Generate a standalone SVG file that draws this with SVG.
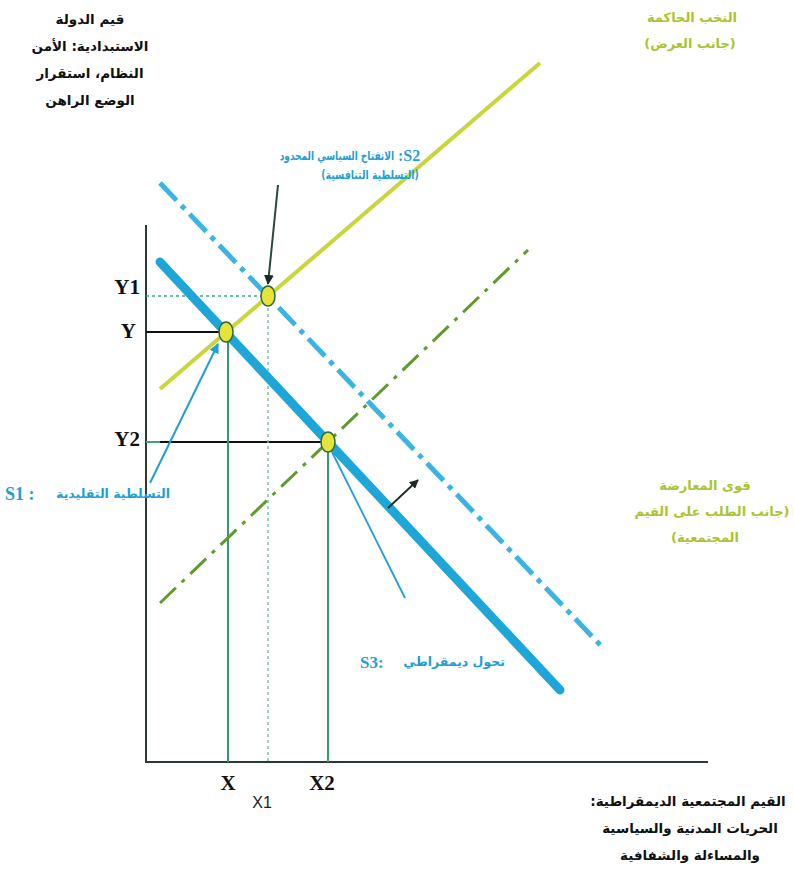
<svg xmlns="http://www.w3.org/2000/svg" width="794" height="894" viewBox="0 0 794 894">
<defs>
<marker id="ahBlack" viewBox="0 0 10 10" refX="9" refY="5" markerWidth="5" markerHeight="5" orient="auto-start-reverse"><path d="M0,0 L10,5 L0,10 z" fill="#1c2a22"/></marker>
<marker id="ahBlue" viewBox="0 0 10 10" refX="9" refY="5" markerWidth="5" markerHeight="5" orient="auto-start-reverse"><path d="M0,0 L10,5 L0,10 z" fill="#1f9fd2"/></marker>
</defs>
<style>
.ar{font-family:"DejaVu Sans",sans-serif;font-weight:bold;}
.lab{font-family:"Liberation Serif",serif;font-weight:bold;font-size:21px;fill:#111;}
.blk{fill:#111;font-size:13.5px;}
.grn{fill:#a9c42e;font-size:13px;}
.cy{fill:#1e9fd4;font-size:12.5px;}
.pt{fill:#e6e33a;stroke:#2c6a3c;stroke-width:1.5;}
</style>
<rect width="794" height="894" fill="#ffffff"/>

<g id="connectors" fill="none">
  <path id="axes" d="M146,225 V762 H708" stroke="#2b3b33" stroke-width="2"/>
  <line id="y1-guide" x1="146" y1="296" x2="268" y2="296" stroke="#3aa88a" stroke-width="1.5" stroke-dasharray="3 3"/>
  <line id="y-guide" x1="146" y1="332" x2="226" y2="332" stroke="#111" stroke-width="2"/>
  <line id="y2-guide-a" x1="146" y1="442" x2="160" y2="442" stroke="#3aa870" stroke-width="2"/>
  <line id="y2-guide-b" x1="160" y1="442" x2="328" y2="442" stroke="#111" stroke-width="2"/>
  <line id="x-guide" x1="228" y1="332" x2="228" y2="762" stroke="#2f9e6a" stroke-width="2"/>
  <line id="x1-guide" x1="268" y1="296" x2="268" y2="762" stroke="#7cc4b0" stroke-width="1.5" stroke-dasharray="3 3"/>
  <line id="x2-guide" x1="328" y1="442" x2="328" y2="762" stroke="#2f9e6a" stroke-width="2"/>
  <line id="supply" x1="160" y1="389" x2="540" y2="63" stroke="#c9d63a" stroke-width="4"/>
  <line id="supply-shift" x1="160" y1="603" x2="528" y2="250" stroke="#5e9a2c" stroke-width="3" stroke-dasharray="22 8 4 8"/>
  <line id="demand-shift" x1="160" y1="183" x2="605" y2="650" stroke="#3ab4e0" stroke-width="5" stroke-dasharray="24 7 5 7"/>
  <line id="demand" x1="160" y1="262" x2="560" y2="690" stroke="#1fa6d8" stroke-width="9" stroke-linecap="round"/>
  <line id="shift-arrow" x1="388" y1="508" x2="418" y2="480" stroke="#1c2a22" stroke-width="1.8" marker-end="url(#ahBlack)"/>
  <line id="s2-pointer" x1="278" y1="185" x2="268" y2="284" stroke="#2a4a38" stroke-width="2" marker-end="url(#ahBlack)"/>
  <line id="s1-pointer" x1="150" y1="483" x2="218" y2="344" stroke="#1f9fd2" stroke-width="2" marker-end="url(#ahBlue)"/>
  <line id="s3-pointer" x1="332" y1="452" x2="405" y2="598" stroke="#1f9fd2" stroke-width="1.8"/>
</g>

<g id="S1"><ellipse class="pt" cx="226" cy="332" rx="7" ry="10"/></g>
<g id="S2"><ellipse class="pt" cx="268" cy="296" rx="7" ry="10"/></g>
<g id="S3"><ellipse class="pt" cx="328" cy="442" rx="7" ry="10"/></g>

<g id="axis-labels">
  <text class="lab" x="140" y="294" text-anchor="end">Y1</text>
  <text class="lab" x="136" y="338" text-anchor="end">Y</text>
  <text class="lab" x="140" y="446" text-anchor="end">Y2</text>
  <text class="lab" x="228" y="790" text-anchor="middle">X</text>
  <text class="lab" x="322" y="790" text-anchor="middle">X2</text>
  <text x="262" y="808" text-anchor="middle" font-family="Liberation Sans, sans-serif" font-size="16" fill="#222">X1</text>
</g>

<g id="label-state-values">
  <text class="ar blk" x="90" y="24" text-anchor="middle" direction="rtl">قيم الدولة</text>
  <text class="ar blk" x="90" y="51" text-anchor="middle" direction="rtl">الاستبدادية: الأمن</text>
  <text class="ar blk" x="90" y="78" text-anchor="middle" direction="rtl">النظام، استقرار</text>
  <text class="ar blk" x="90" y="105" text-anchor="middle" direction="rtl">الوضع الراهن</text>
</g>

<g id="label-elites">
  <text class="ar grn" x="692" y="22" text-anchor="middle" direction="rtl">النخب الحاكمة</text>
  <text class="ar grn" x="690" y="48" text-anchor="middle" direction="rtl">(جانب العرض)</text>
</g>

<g id="label-S2">
  <text class="ar cy" transform="translate(394,160) scale(0.72,1)" x="0" y="0" text-anchor="start" direction="rtl">الانفتاح السياسي المحدود</text>
  <text x="398" y="161" font-family="Liberation Serif, serif" font-weight="bold" font-size="16" fill="#1e9fd4">:S2</text>
  <text class="ar cy" transform="translate(370,179) scale(0.75,1)" x="0" y="0" text-anchor="middle" direction="rtl">(التسلطية التنافسية)</text>
</g>

<g id="label-S1">
  <text x="5" y="500" font-family="Liberation Serif, serif" font-weight="bold" font-size="18" fill="#1e9fd4">S1 :</text>
  <text class="ar cy" x="170" y="498" text-anchor="start" direction="rtl" font-size="13.5">التسلطية التقليدية</text>
</g>

<g id="label-opposition">
  <text class="ar grn" x="705" y="490" text-anchor="middle" direction="rtl">قوى المعارضة</text>
  <text class="ar grn" x="712" y="516" text-anchor="middle" direction="rtl">(جانب الطلب على القيم</text>
  <text class="ar grn" x="705" y="542" text-anchor="middle" direction="rtl">المجتمعية)</text>
</g>

<g id="label-S3">
  <text x="360" y="668" font-family="Liberation Serif, serif" font-weight="bold" font-size="17" fill="#1e9fd4">S3:</text>
  <text class="ar cy" x="505" y="666" text-anchor="start" direction="rtl" font-size="15">تحول ديمقراطي</text>
</g>

<g id="label-democratic-values">
  <text class="ar blk" x="688" y="806" text-anchor="middle" direction="rtl">القيم المجتمعية الديمقراطية:</text>
  <text class="ar blk" x="690" y="833" text-anchor="middle" direction="rtl">الحريات المدنية والسياسية</text>
  <text class="ar blk" x="690" y="860" text-anchor="middle" direction="rtl">والمساءلة والشفافية</text>
</g>
</svg>
